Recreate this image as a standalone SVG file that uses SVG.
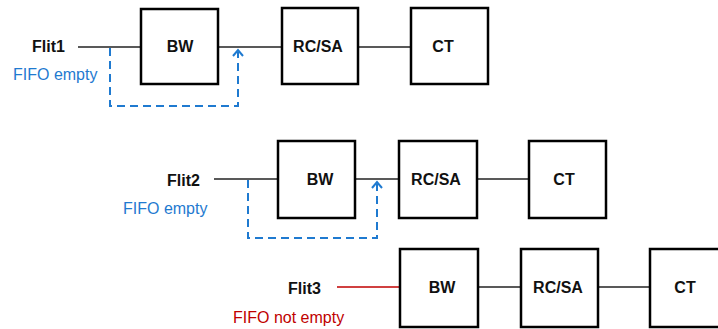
<svg xmlns="http://www.w3.org/2000/svg" width="718" height="329" viewBox="0 0 718 329">
<style>
.box{fill:#fff;stroke:#000;stroke-width:2.5}
.ln{stroke:#222;stroke-width:1.5;fill:none}
.red{stroke:#c00000;stroke-width:1.5;fill:none}
.dash{stroke:#1f7ad0;stroke-width:2;stroke-dasharray:8,5;fill:none}
.arr{stroke:#1f7ad0;stroke-width:2;fill:none}
.t{font-family:"Liberation Sans",Arial,sans-serif;font-size:16px;font-weight:bold;fill:#111}
.tb{font-family:"Liberation Sans",Arial,sans-serif;font-size:16px;fill:#1f7ad0}
.tr{font-family:"Liberation Sans",Arial,sans-serif;font-size:16px;fill:#c00000}
</style>
<g id="connectors">
<line class="ln" x1="78" y1="47" x2="141" y2="47"/>
<line class="ln" x1="218" y1="47" x2="282" y2="47"/>
<line class="ln" x1="358" y1="47" x2="411" y2="47"/>
<polyline class="dash" points="110,48 110,106 238,106 238,52"/>
<polyline class="arr" points="233,56 238,50 243,56"/>
<line class="ln" x1="214" y1="179" x2="278" y2="179"/>
<line class="ln" x1="355" y1="179" x2="399" y2="179"/>
<line class="ln" x1="477" y1="179" x2="529" y2="179"/>
<polyline class="dash" points="248,180 248,238 377,238 377,184"/>
<polyline class="arr" points="372,188 377,182 382,188"/>
<line class="red" x1="337" y1="287" x2="400" y2="287"/>
<line class="ln" x1="478" y1="287" x2="521" y2="287"/>
<line class="ln" x1="598" y1="287" x2="650" y2="287"/>
</g>
<g id="flit1-label"><text class="t" x="32" y="52">Flit1</text><text class="tb" x="13" y="80">FIFO empty</text></g>
<g id="bw1"><rect class="box" x="141" y="9" width="77" height="75"/><text class="t" x="180" y="52" text-anchor="middle">BW</text></g>
<g id="rcsa1"><rect class="box" x="282" y="8" width="76" height="76"/><text class="t" x="318" y="52" text-anchor="middle">RC/SA</text></g>
<g id="ct1"><rect class="box" x="411" y="8" width="77" height="76"/><text class="t" x="443" y="52" text-anchor="middle">CT</text></g>
<g id="flit2-label"><text class="t" x="167" y="186">Flit2</text><text class="tb" x="123" y="214">FIFO empty</text></g>
<g id="bw2"><rect class="box" x="278" y="141" width="77" height="77"/><text class="t" x="320" y="185" text-anchor="middle">BW</text></g>
<g id="rcsa2"><rect class="box" x="399" y="141" width="78" height="77"/><text class="t" x="436" y="185" text-anchor="middle">RC/SA</text></g>
<g id="ct2"><rect class="box" x="529" y="141" width="77" height="77"/><text class="t" x="564" y="185" text-anchor="middle">CT</text></g>
<g id="flit3-label"><text class="t" x="288" y="294">Flit3</text><text class="tr" x="233" y="323">FIFO not empty</text></g>
<g id="bw3"><rect class="box" x="400" y="249" width="78" height="78"/><text class="t" x="442" y="293" text-anchor="middle">BW</text></g>
<g id="rcsa3"><rect class="box" x="521" y="249" width="77" height="78"/><text class="t" x="558" y="293" text-anchor="middle">RC/SA</text></g>
<g id="ct3"><rect class="box" x="650" y="249" width="77" height="78"/><text class="t" x="685" y="293" text-anchor="middle">CT</text></g>
</svg>
